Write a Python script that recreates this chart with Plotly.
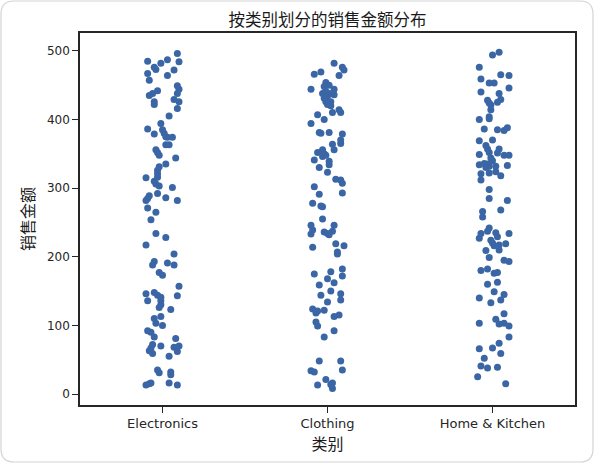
import plotly.graph_objects as go

# ---------------- data ----------------
categories = ["Electronics", "Clothing", "Home & Kitchen"]

electronics_values = [496, 485, 487, 482, 484, 476, 473, 467, 472, 464, 457, 449, 444, 442, 438, 435, 438,
                      426, 422, 429, 426, 416, 405, 394, 386, 379, 385, 380, 375, 374, 374, 363, 363, 356,
                      352, 348, 344, 335, 331, 326, 321, 316, 315, 310, 306, 303, 301, 289, 285, 282, 292,
                      286, 282, 271, 265, 254, 234, 228, 217, 204, 193, 188, 191, 188, 177, 173, 157, 146,
                      148, 144, 141, 143, 136, 136, 130, 126, 123, 110, 103, 113, 100, 92, 90, 83, 81, 72,
                      67, 63, 59, 70, 68, 70, 62, 55, 35, 31, 32, 28, 13, 15, 16, 16, 13]
electronics_jitter = [0.09, -0.09, 0.03, -0.01, 0.10, -0.05, -0.04, -0.09, 0.07, 0.03, -0.08, 0.09, 0.10,
                      -0.03, -0.06, -0.08, 0.09, -0.05, -0.05, 0.07, 0.10, 0.09, 0.04, -0.01, -0.09, -0.05,
                      0.00, 0.01, 0.02, 0.03, 0.06, 0.02, 0.04, -0.04, -0.03, -0.02, 0.08, 0.02, -0.02,
                      -0.03, -0.03, -0.03, -0.10, -0.05, -0.04, -0.02, 0.06, -0.08, -0.09, -0.10, -0.03,
                      0.02, 0.09, -0.09, -0.04, -0.07, -0.04, 0.02, -0.10, 0.07, -0.05, -0.06, 0.03, 0.07,
                      -0.02, 0.00, 0.10, -0.10, -0.05, -0.03, -0.01, 0.09, -0.09, -0.01, -0.01, -0.02,
                      0.05, -0.05, -0.04, -0.01, 0.00, -0.09, -0.07, -0.05, 0.08, -0.06, -0.07, -0.08,
                      -0.06, -0.01, 0.07, 0.10, 0.09, 0.04, -0.03, -0.02, 0.05, 0.05, -0.10, -0.08, -0.07,
                      0.04, 0.09]

clothing_values = [482, 476, 472, 466, 469, 464, 454, 450, 448, 444, 444, 438, 441, 438, 434, 436, 431, 426,
                   426, 422, 420, 410, 414, 410, 407, 400, 394, 381, 380, 381, 379, 370, 365, 364, 356, 352,
                   356, 350, 346, 348, 341, 339, 334, 330, 323, 313, 312, 307, 302, 291, 293, 278, 274, 273,
                   255, 246, 239, 233, 246, 236, 234, 232, 237, 214, 219, 216, 207, 204, 175, 178, 182, 172,
                   168, 162, 159, 150, 144, 146, 137, 134, 124, 118, 121, 122, 113, 115, 105, 99, 92, 83,
                   48, 48, 34, 32, 35, 21, 13, 14, 16, 8]
clothing_jitter = [0.04, 0.09, 0.10, -0.08, -0.04, 0.07, -0.01, 0.01, -0.02, 0.04, -0.10, -0.03, -0.01,
                   0.01, 0.00, 0.04, -0.02, -0.01, 0.02, 0.00, 0.02, 0.03, 0.07, 0.08, -0.06, -0.02, -0.10,
                   -0.05, -0.04, 0.01, 0.09, 0.08, 0.08, 0.03, 0.04, -0.06, -0.03, -0.02, -0.03, -0.01,
                   -0.08, 0.01, 0.01, -0.05, 0.00, 0.05, 0.08, 0.09, -0.08, -0.05, 0.09, -0.09, -0.04,
                   -0.03, -0.03, -0.10, -0.09, -0.10, 0.04, -0.02, 0.00, 0.01, 0.03, -0.09, 0.05, 0.10,
                   0.06, 0.06, -0.08, 0.02, 0.09, 0.09, 0.00, 0.04, -0.05, 0.02, -0.04, 0.08, 0.08, 0.00,
                   -0.09, -0.07, -0.06, -0.02, 0.04, 0.07, -0.07, -0.06, 0.04, -0.02, -0.05, 0.08, -0.10,
                   -0.08, 0.09, -0.01, -0.06, 0.02, 0.03, 0.03]

home_values = [494, 498, 476, 459, 465, 464, 453, 453, 446, 440, 438, 428, 424, 421, 425, 429, 414, 400,
               404, 401, 386, 385, 384, 388, 369, 370, 362, 357, 352, 357, 351, 349, 348, 348, 344, 340,
               334, 336, 335, 332, 330, 332, 333, 321, 312, 322, 324, 318, 298, 285, 282, 266, 258, 268,
               242, 237, 234, 227, 235, 229, 234, 224, 220, 216, 217, 210, 219, 209, 199, 195, 193, 180,
               182, 176, 177, 160, 163, 149, 140, 145, 133, 137, 117, 103, 109, 102, 103, 99, 83, 66, 67,
               74, 59, 52, 41, 38, 39, 25, 15]
home_jitter = [0.00, 0.04, -0.08, -0.07, 0.05, 0.10, -0.02, 0.01, 0.10, -0.07, 0.04, -0.03, -0.02, -0.01,
               0.03, 0.05, -0.01, -0.08, -0.02, -0.02, -0.05, 0.03, 0.07, 0.09, -0.08, 0.00, -0.04, -0.03,
               -0.02, 0.04, 0.03, -0.08, 0.07, 0.10, -0.01, 0.00, -0.08, -0.05, -0.03, -0.02, -0.04, 0.02,
               0.09, -0.07, -0.07, -0.02, 0.02, 0.05, -0.02, -0.02, 0.09, -0.06, -0.06, 0.05, -0.02, -0.03,
               -0.07, -0.08, 0.02, 0.03, 0.10, -0.01, 0.00, 0.01, 0.04, 0.04, 0.08, -0.04, -0.02, 0.07,
               0.10, -0.07, -0.03, 0.01, 0.03, -0.03, 0.03, 0.01, -0.08, 0.07, -0.01, 0.05, 0.07, -0.08,
               0.02, 0.04, 0.07, 0.10, 0.10, -0.08, 0.00, 0.04, 0.05, -0.05, -0.07, -0.03, 0.03, -0.09,
               0.08]

y_ticks = [0, 100, 200, 300, 400, 500]

title_text = "按类别划分的销售金额分布"
x_title = "类别"
y_title = "销售金额"

# ---------------- figure ----------------
FONT = "DejaVu Sans, Noto Sans CJK SC, sans-serif"
CJK_FONT = "Noto Sans CJK SC, sans-serif"
POINT_COLOR = "#3b66a6"
AXIS_COLOR = "#262626"

series = [electronics_values, clothing_values, home_values]
jitters = [electronics_jitter, clothing_jitter, home_jitter]

fig = go.Figure()
for i, (vals, jit) in enumerate(zip(series, jitters)):
    fig.add_trace(go.Scatter(
        x=[i + j for j in jit],
        y=vals,
        mode="markers",
        marker=dict(size=7, color=POINT_COLOR, line=dict(width=0)),
        name=categories[i],
        showlegend=False,
        hoverinfo="y",
    ))

W, H = 595, 464
L, R, T, B = 80, 20, 33, 59
pw, ph = W - L - R, H - T - B


def px_to_paper(px, py):
    return (px - L) / pw, (H - B - py) / ph


def rounded_rect(x0, y0, x1, y1, r):
    def p(x, y):
        a, b = px_to_paper(x, y)
        return f"{a:.5f},{b:.5f}"
    return (f"M {p(x0 + r, y0)} L {p(x1 - r, y0)} Q {p(x1, y0)} {p(x1, y0 + r)} "
            f"L {p(x1, y1 - r)} Q {p(x1, y1)} {p(x1 - r, y1)} "
            f"L {p(x0 + r, y1)} Q {p(x0, y1)} {p(x0, y1 - r)} "
            f"L {p(x0, y0 + r)} Q {p(x0, y0)} {p(x0 + r, y0)} Z")


fig.add_shape(type="path", xref="paper", yref="paper",
              path=rounded_rect(1, 1, W - 2, H - 2, 13),
              line=dict(color="#d4d4d4", width=1.2), fillcolor="rgba(0,0,0,0)")

fig.update_layout(
    width=W, height=H,
    margin=dict(l=L, r=R, t=T, b=B, pad=0),
    paper_bgcolor="white", plot_bgcolor="white",
    font=dict(family=FONT, color=AXIS_COLOR, size=12.5),
    title=dict(text=title_text, x=(L + pw / 2) / W, xanchor="center",
               y=1 - 20 / H, yanchor="middle", yref="container",
               font=dict(size=16.5, family=CJK_FONT, color="#1a1a1a")),
)

fig.update_xaxes(
    range=[-0.5, 2.5],
    tickmode="array", tickvals=[0, 1, 2], ticktext=categories,
    showgrid=False, zeroline=False,
    showline=True, linecolor=AXIS_COLOR, linewidth=1.6, mirror=True,
    ticks="outside", ticklen=6, tickwidth=1.3, tickcolor=AXIS_COLOR,
    tickfont=dict(size=13, family=FONT, color=AXIS_COLOR),
    title=dict(text=x_title, font=dict(size=16, family=CJK_FONT, color="#1a1a1a"), standoff=6),
)
fig.update_yaxes(
    range=[-16, 526],
    tickmode="array", tickvals=y_ticks,
    showgrid=False, zeroline=False,
    showline=True, linecolor=AXIS_COLOR, linewidth=1.6, mirror=True,
    ticks="outside", ticklen=6, tickwidth=1.3, tickcolor=AXIS_COLOR,
    tickfont=dict(size=12, family=FONT, color=AXIS_COLOR),
    title=dict(text=y_title, font=dict(size=16, family=CJK_FONT, color="#1a1a1a"), standoff=8),
)

fig.write_html("out.html", config={"displayModeBar": False},
               post_script="document.body.style.margin='0px';")
